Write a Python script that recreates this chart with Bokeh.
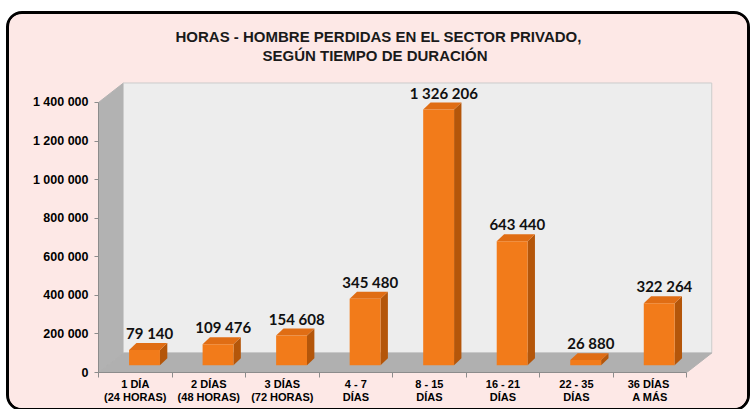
from bokeh.plotting import figure
from bokeh.models import FixedTicker, Title
from bokeh.core.properties import value
from bokeh.embed import file_html
from bokeh.resources import INLINE

# ---- data ----
categories = ["1 DÍA\n(24 HORAS)", "2 DÍAS\n(48 HORAS)", "3 DÍAS\n(72 HORAS)", "4 - 7\nDÍAS",
              "8 - 15\nDÍAS", "16 - 21\nDÍAS", "22 - 35\nDÍAS", "36  DÍAS\nA MÁS"]
values = [79140, 109476, 154608, 345480, 1326206, 643440, 26880, 322264]
y_ticks = [0, 200000, 400000, 600000, 800000, 1000000, 1200000, 1400000]
title_lines = ["HORAS - HOMBRE PERDIDAS EN EL SECTOR PRIVADO,", "SEGÚN TIEMPO DE DURACIÓN"]


def fmt(v):
    return f"{v:,}".replace(",", " ")


value_labels = [fmt(v) for v in values]
y_tick_labels = [fmt(t) for t in y_ticks]

# ---- styles / geometry ----
PINK = "#fde8e6"
n = len(values)
ymax = y_ticks[-1]
DX, DY = 0.34, 101000          # depth of the 3D box (data units)
F = 0.37                       # depth position of bars
BDX, BDY = 0.1, 36000          # depth of each bar
BW = 0.42                      # bar width
SHIFT = 0.5 + F * DX

p = figure(width=744, height=400, x_range=(0, n + 0.5), y_range=(0, 1602000),
           output_backend="svg", toolbar_location=None,
           min_border_left=89, min_border_right=30, min_border_top=49, min_border_bottom=42)
p.border_fill_color = PINK
p.background_fill_alpha = 0
p.outline_line_color = None
p.xgrid.visible = False
p.ygrid.visible = False
p.styles = {"border": "3px solid black", "border-radius": "16px", "overflow": "hidden",
            "background-color": PINK, "margin-left": "6px", "margin-top": "11px"}

# 3D walls
p.patch([0, DX, DX, 0], [0, DY, ymax + DY, ymax], color="#b2b2b2")
p.quad(left=[DX], right=[n + DX], bottom=[DY], top=[ymax + DY],
       fill_color="#ededed", line_color="#cdcdcd", line_width=1)
p.patch([0, n, n + DX, DX], [0, 0, DY, DY], color="#b0b0b0")

# bars
cx = [i + SHIFT for i in range(n)]
lefts = [c - BW / 2 for c in cx]
rights = [c + BW / 2 for c in cx]
bottoms = [F * DY] * n
tops = [v + F * DY for v in values]

side_xs = [[r, r + BDX, r + BDX, r] for r in rights]
side_ys = [[b, b + BDY, t + BDY, t] for b, t in zip(bottoms, tops)]
p.patches(side_xs, side_ys, fill_color="#b4560a", line_color=None)
top_xs = [[l, r, r + BDX, l + BDX] for l, r in zip(lefts, rights)]
top_ys = [[t, t, t + BDY, t + BDY] for t in tops]
p.patches(top_xs, top_ys, fill_color="#e06d14", line_color=None)
p.quad(left=lefts, right=rights, bottom=bottoms, top=tops,
       fill_color="#f27b1a", line_color=None)

p.text(x=[c + 0.07 for c in cx], y=[t + BDY for t in tops], text=value_labels,
       text_align="center", text_baseline="bottom", y_offset=-1,
       text_font=value("Lato"), text_font_style="bold", text_font_size="15px",
       text_color="#111111")

# title (two lines; first added sits nearest the plot)
p.title.visible = False
title_offsets = [77, 164]
for line, off in reversed(list(zip(title_lines, title_offsets))):
    p.add_layout(Title(text=line, align="left", offset=off, text_font="Liberation Sans",
                       text_font_style="bold", text_font_size="15px",
                       text_color="#1a1a1a", standoff=0), "above")

# y axis
p.yaxis.ticker = FixedTicker(ticks=y_ticks)
p.yaxis.major_label_overrides = {t: l for t, l in zip(y_ticks, y_tick_labels)}
p.yaxis.bounds = (0, ymax)
p.yaxis.axis_line_color = "#8c8c8c"
p.yaxis.major_tick_line_color = "#8c8c8c"
p.yaxis.major_tick_out = 4
p.yaxis.major_tick_in = 0
p.yaxis.minor_tick_line_color = None
p.yaxis.major_label_standoff = 6
p.yaxis.major_label_text_font = "Liberation Sans"
p.yaxis.major_label_text_font_style = "bold"
p.yaxis.major_label_text_font_size = "12.5px"
p.yaxis.major_label_text_color = "black"

# x axis
p.xaxis.ticker = FixedTicker(ticks=[i + 0.5 for i in range(n)], minor_ticks=list(range(n + 1)))
p.xaxis.major_label_overrides = {i + 0.5: c for i, c in enumerate(categories)}
p.xaxis.bounds = (0, n)
p.xaxis.axis_line_color = "#8c8c8c"
p.xaxis.major_tick_line_color = None
p.xaxis.major_tick_out = 0
p.xaxis.major_tick_in = 0
p.xaxis.minor_tick_line_color = "#8c8c8c"
p.xaxis.minor_tick_out = 5
p.xaxis.minor_tick_in = 0
p.xaxis.major_label_standoff = 0
p.xaxis.major_label_text_font = "Liberation Sans"
p.xaxis.major_label_text_font_style = "bold"
p.xaxis.major_label_text_font_size = "11px"
p.xaxis.major_label_text_color = "black"
p.xaxis.major_label_text_line_height = 1.15

open("out.html", "w").write(file_html(p, INLINE))
